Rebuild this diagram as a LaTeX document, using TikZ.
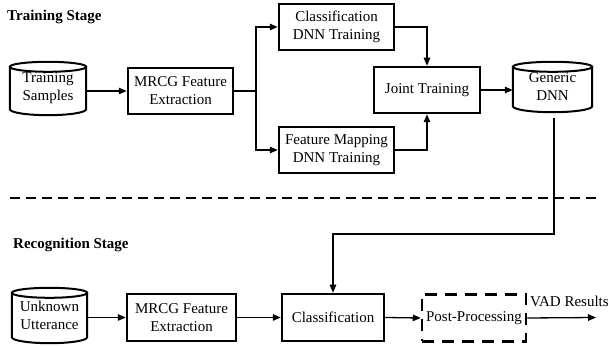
\documentclass[tikz,border=0pt]{standalone}
\usepackage{fontspec}
\setmainfont{Liberation Serif}
\usetikzlibrary{arrows.meta,calc}
\tikzset{
  txt/.style={font=\fontsize{15}{18}\selectfont, align=center, inner sep=0pt},
  box/.style={txt, draw, line width=2.5pt, minimum height=46pt},
  dbox/.style={txt, draw, line width=2.5pt, minimum height=47pt, dash pattern=on 12pt off 8pt},
  cylnode/.style={txt},
  cylline/.style={line width=2pt},
  conn/.style={line width=1.3pt, -{Triangle[length=8pt,width=6.5pt]}},
  plain/.style={line width=1.3pt},
  title/.style={font=\fontsize{15}{18}\selectfont\bfseries, inner sep=0pt, anchor=west},
}
\newcommand\drawcyl[1]{%
  \draw[cylline] let \p1=(#1.north west), \p2=(#1.south east), \n1={(\x2-\x1)/2} in
    ([yshift=-5pt]#1.north west) -- ([yshift=6pt]#1.south west)
    arc[start angle=180, end angle=360, x radius=\n1, y radius=6pt]
    -- ([yshift=-5pt]#1.north east)
    ([yshift=-5pt]#1.north) ellipse[x radius=\n1, y radius=5pt];}
\begin{document}
\begin{tikzpicture}[x=1pt,y=-1pt]
\useasboundingbox (0,0) rectangle (611,347);
% titles
\node[title] (t1) at (7,17) {Training Stage};
\node[title] (t2) at (13,245) {Recognition Stage};
% training stage
\node[cylnode, minimum width=76pt, minimum height=53pt] (ts) at (48,88.5) {Training\\Samples};
\drawcyl{ts}
\node[box, minimum width=105pt] (m1) at (180.5,91) {MRCG Feature\\Extraction};
\node[box, minimum width=115pt] (c1) at (336.5,27) {Classification\\DNN Training};
\node[box, minimum width=115pt] (fm) at (336.5,150) {Feature Mapping\\DNN Training};
\node[box, minimum width=106pt] (jt) at (427,90) {Joint Training};
\node[cylnode, minimum width=79pt, minimum height=50pt] (gd) at (552.5,87) {Generic\\DNN};
\drawcyl{gd}
\coordinate (br) at (256,91);
\draw[conn] (ts.east |- m1) -- (m1.west);
\draw[plain] (m1.east) -- (br);
\draw[conn] (br) |- (c1.west);
\draw[conn] (br) |- (fm.west);
\draw[conn] (c1.east) -| (jt.north);
\draw[conn] (fm.east) -| (jt.south);
\draw[conn] (jt.east) -- (gd.west |- jt.east);
% separator
\coordinate (dl) at (10,198);
\coordinate (dr) at (597,198);
\draw[line width=1.2pt, dash pattern=on 10pt off 6pt] (dl) -- (dr);
% recognition stage
\node[cylnode, minimum width=75pt, minimum height=55pt] (uu) at (49.5,315.5) {Unknown\\Utterance};
\drawcyl{uu}
\node[box, minimum width=109pt, minimum height=47pt] (m2) at (181.5,317.5) {MRCG Feature\\Extraction};
\node[box, minimum width=102pt, minimum height=47pt] (c2) at (333,317.5) {Classification};
\node[dbox, minimum width=104pt] (pp) at (474,318) {Post-Processing};
\coordinate (out) at (596,317.5);
\node[txt, anchor=south west] (vad) at (530,307) {VAD Results};
\draw[conn] (uu.east |- m2) -- (m2.west);
\draw[conn] (m2.east) -- (c2.west);
\draw[conn] (c2.east) -- (pp.west);
\draw[conn] (pp.east) -- (out);
\coordinate (gdb) at (554,118);
\draw[conn] (gdb) -- (554,234) -| (c2.north);
\end{tikzpicture}
\end{document}
